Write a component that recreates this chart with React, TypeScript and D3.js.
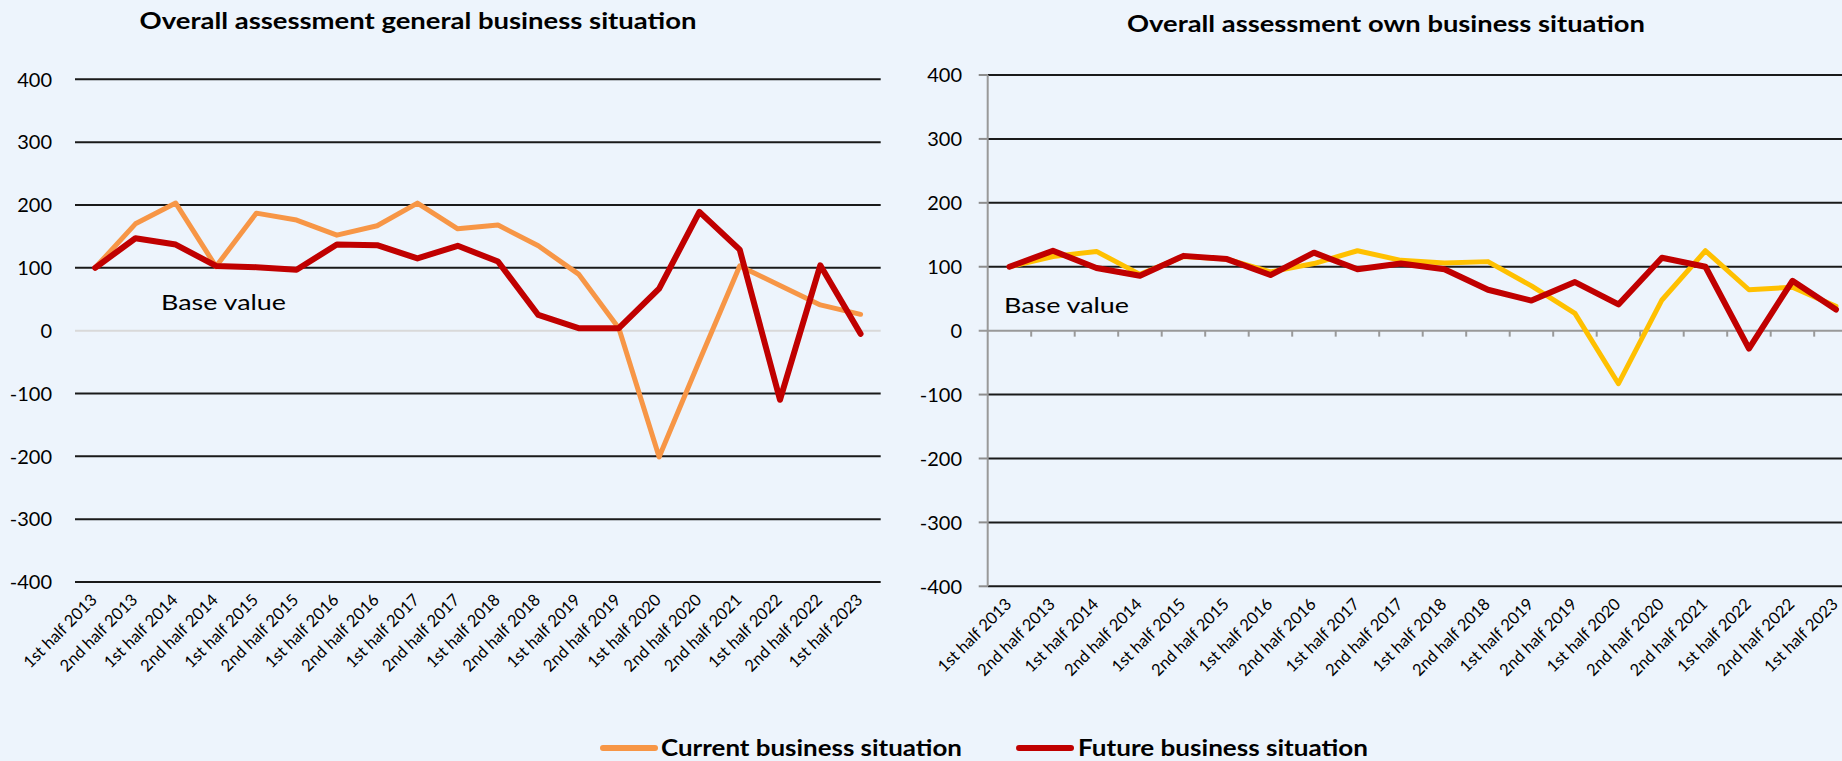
import React from "react";
import * as d3 from "d3";

const categories = [
  "1st half 2013", "2nd half 2013", "1st half 2014", "2nd half 2014",
  "1st half 2015", "2nd half 2015", "1st half 2016", "2nd half 2016",
  "1st half 2017", "2nd half 2017", "1st half 2018", "2nd half 2018",
  "1st half 2019", "2nd half 2019", "1st half 2020", "2nd half 2020",
  "2nd half 2021", "1st half 2022", "2nd half 2022", "1st half 2023",
];

const generalCurrent = [100, 170, 203, 102, 187, 176, 152, 167, 203, 162, 168, 135, 90, 4, -201, -48, 103, 72, 41, 26];
const generalFuture = [100, 147, 137, 103, 101, 97, 137, 136, 115, 135, 110, 25, 4, 4, 67, 189, 129, -110, 104, -5];
const ownCurrent = [100, 116, 124, 88, 116, 112, 92, 105, 125, 110, 106, 108, 70, 27, -83, 48, 125, 64, 68, 38];
const ownFuture = [100, 125, 98, 86, 117, 112, 87, 122, 96, 105, 96, 64, 47, 76, 41, 114, 100, -28, 78, 33];

const yTicks = [400, 300, 200, 100, 0, -100, -200, -300, -400];

const titles = ["Overall assessment general business situation", "Overall assessment own business situation"];
const legendLabels = ["Current business situation", "Future business situation"];

const BG = "#EDF4FC";
const ORANGE = "#F79646";
const RED = "#C00000";
const YELLOW = "#FFC000";
const FONT = "Lato, 'Open Sans', sans-serif";

type PanelProps = {
  x0: number; x1: number; yTop: number; yBot: number;
  current: number[]; future: number[]; currentColor: string;
  title: string; titleX: number; titleY: number; titleLen: number;
  labelRight: number; baseX: number; baseY: number;
  axis: boolean;
};

function Panel(p: PanelProps) {
  const x = d3.scaleBand<string>().domain(categories).range([p.x0, p.x1]);
  const y = d3.scaleLinear().domain([-400, 400]).range([p.yBot, p.yTop]);
  const bw = x.bandwidth();
  const cx = (c: string) => (x(c) as number) + bw / 2;
  const line = d3.line<number>()
    .x((_, i) => cx(categories[i]))
    .y((d) => y(d));
  const gridStart = p.axis ? p.x0 - 9 : p.x0;
  return (
    <g>
      <text x={p.titleX} y={p.titleY} textAnchor="middle" fontFamily={FONT} fontWeight={700}
        fontSize={23} fill="#000" textLength={p.titleLen} lengthAdjust="spacingAndGlyphs">{p.title}</text>
      {yTicks.map((t) => (
        <g key={t}>
          {t !== 0 && (
            <line x1={p.x0} x2={p.x1} y1={y(t)} y2={y(t)} stroke="#1a1a1a" strokeWidth={2} />
          )}
          {t !== 0 && p.axis && (
            <line x1={gridStart} x2={p.x0} y1={y(t)} y2={y(t)} stroke="#8c8c8c" strokeWidth={2} />
          )}
          <text x={p.labelRight} y={y(t)} dy="0.36em" textAnchor="end" fontFamily={FONT}
            fontSize={20} fill="#000">{t}</text>
        </g>
      ))}
      {p.axis ? (
        <g>
          <line x1={gridStart} x2={p.x1} y1={y(0)} y2={y(0)} stroke="#999" strokeWidth={2} />
          {categories.slice(1).map((c) => (
            <line key={c} x1={x(c) as number} x2={x(c) as number} y1={y(0)} y2={y(0) + 6}
              stroke="#999" strokeWidth={2} />
          ))}
          <line x1={p.x0} x2={p.x0} y1={p.yTop} y2={p.yBot} stroke="#999" strokeWidth={2} />
        </g>
      ) : (
        <line x1={p.x0} x2={p.x1} y1={y(0)} y2={y(0)} stroke="#D9D9D9" strokeWidth={2} />
      )}
      <text x={p.baseX} y={p.baseY} fontFamily={FONT} fontSize={22} fill="#000"
        textLength={125} lengthAdjust="spacingAndGlyphs">Base value</text>
      <path d={line(p.current) || ""} fill="none" stroke={p.currentColor} strokeWidth={5}
        strokeLinejoin="round" strokeLinecap="round" />
      <path d={line(p.future) || ""} fill="none" stroke={RED} strokeWidth={6}
        strokeLinejoin="round" strokeLinecap="round" />
      {categories.map((c) => (
        <text key={c} transform={`translate(${cx(c) + 3},${p.yBot + 19}) rotate(-45)`}
          textAnchor="end" fontFamily={FONT} fontSize={16.5} fill="#000">{c}</text>
      ))}
    </g>
  );
}

export default function App() {
  return (
    <svg width={1842} height={761} style={{ position: "absolute", left: 0, top: 0, display: "block" }}>
      <rect x={0} y={0} width={1842} height={761} fill={BG} />
      <Panel x0={75} x1={880.7} yTop={79.3} yBot={582} current={generalCurrent} future={generalFuture}
        currentColor={ORANGE} title={titles[0]} titleX={418} titleY={29} titleLen={557}
        labelRight={52} baseX={161} baseY={310} axis={false} />
      <Panel x0={987.7} x1={1857.7} yTop={75} yBot={586.3} current={ownCurrent} future={ownFuture}
        currentColor={YELLOW} title={titles[1]} titleX={1386} titleY={32} titleLen={518}
        labelRight={962} baseX={1004} baseY={313} axis={true} />
      <g>
        <line x1={603} x2={655} y1={748} y2={748} stroke={ORANGE} strokeWidth={6} strokeLinecap="round" />
        <text x={661} y={756} fontFamily={FONT} fontWeight={700} fontSize={23} fill="#000"
          textLength={301} lengthAdjust="spacingAndGlyphs">{legendLabels[0]}</text>
        <line x1={1019} x2={1071} y1={748} y2={748} stroke={RED} strokeWidth={6} strokeLinecap="round" />
        <text x={1078} y={756} fontFamily={FONT} fontWeight={700} fontSize={23} fill="#000"
          textLength={290} lengthAdjust="spacingAndGlyphs">{legendLabels[1]}</text>
      </g>
    </svg>
  );
}
